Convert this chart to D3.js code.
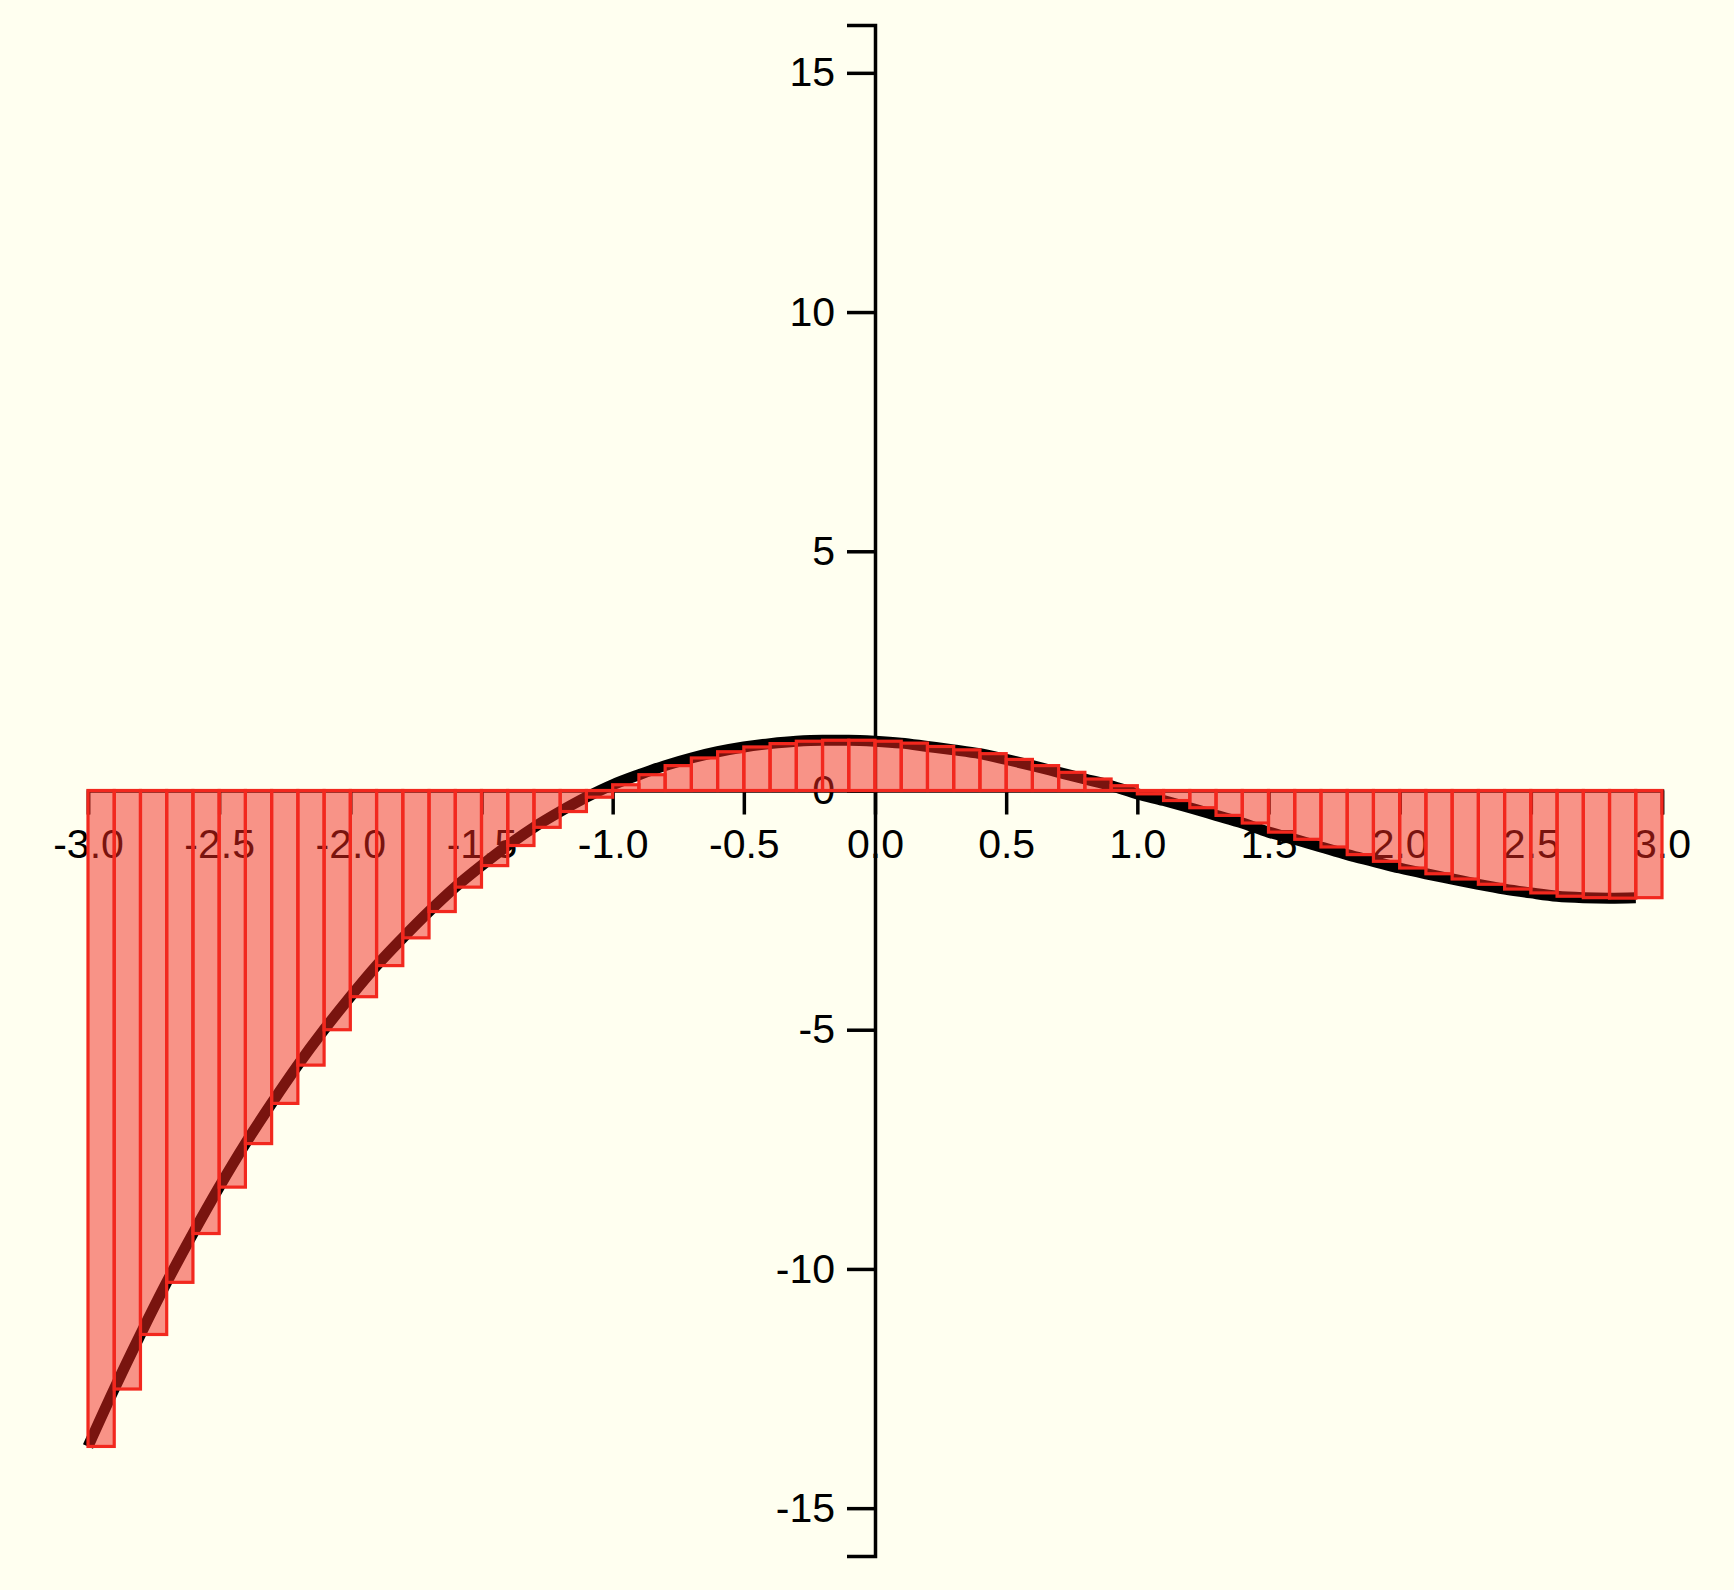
<!DOCTYPE html>
<html>
<head>
<meta charset="utf-8">
<script src="https://cdn.jsdelivr.net/npm/d3@7"></script>
<style>
  html, body { margin: 0; padding: 0; background: #fffff0; }
  svg { display: block; }
</style>
</head>
<body>
<svg id="chart" width="1734" height="1590"></svg>
<script>
// x positions (left edge of each bar / sample point of the curve)
const xs = [
  -3.0, -2.9, -2.8, -2.7, -2.6, -2.5, -2.4, -2.3, -2.2, -2.1,
  -2.0, -1.9, -1.8, -1.7, -1.6, -1.5, -1.4, -1.3, -1.2, -1.1,
  -1.0, -0.9, -0.8, -0.7, -0.6, -0.5, -0.4, -0.3, -0.2, -0.1,
   0.0,  0.1,  0.2,  0.3,  0.4,  0.5,  0.6,  0.7,  0.8,  0.9,
   1.0,  1.1,  1.2,  1.3,  1.4,  1.5,  1.6,  1.7,  1.8,  1.9,
   2.0,  2.1,  2.2,  2.3,  2.4,  2.5,  2.6,  2.7,  2.8,  2.9
];
// value at each x
const ys = [
  -13.71, -12.51, -11.37, -10.28, -9.26, -8.29, -7.38, -6.54, -5.74, -5.00,
   -4.31,  -3.66,  -3.08,  -2.53, -2.02, -1.57, -1.15, -0.77, -0.44, -0.14,
    0.12,   0.33,   0.52,   0.68,  0.81,  0.91,  0.98,  1.03,  1.05,  1.05,
    1.03,   0.99,   0.92,   0.85,  0.77,  0.65,  0.52,  0.38,  0.24,  0.10,
   -0.07,  -0.21,  -0.36,  -0.52, -0.68, -0.87, -1.02, -1.18, -1.34, -1.48,
   -1.62,  -1.74,  -1.85,  -1.96, -2.06, -2.14, -2.21, -2.24, -2.25, -2.24
];
const barWidth = 0.1;
const xTicks = [-3.0, -2.5, -2.0, -1.5, -1.0, -0.5, 0.0, 0.5, 1.0, 1.5, 2.0, 2.5, 3.0];
const yTicks = [-15, -10, -5, 0, 5, 10, 15];
const xDomain = [-3, 3];
const yDomain = [-16, 16];

const data = xs.map((x, i) => ({ x: x, y: ys[i] }));

const svg = d3.select("#chart");
svg.append("rect").attr("width", 1734).attr("height", 1590).attr("fill", "#fffff0");

const x = d3.scaleLinear().domain(xDomain).range([88, 1662]);
const y = d3.scaleLinear().domain(yDomain).range([1556, 25]);

const FONT = "'Liberation Sans', Arial, sans-serif";
const FS = 41;

// x axis
const gx = svg.append("g")
  .attr("transform", `translate(0,${y(0)})`)
  .call(d3.axisBottom(x).tickValues(xTicks).tickFormat(d => d.toFixed(1)).tickSize(24).tickPadding(14));
// y axis
const gy = svg.append("g")
  .attr("transform", `translate(${x(0)},0)`)
  .call(d3.axisLeft(y).tickValues(yTicks).tickFormat(d => String(d)).tickSize(28).tickPadding(12));

[gx, gy].forEach(g => {
  g.selectAll("path, line").attr("stroke", "#000").attr("stroke-width", 3.5);
  g.selectAll("text").attr("fill", "#000").style("font-family", FONT).style("font-size", FS + "px");
});

// curve
const line = d3.line().x(d => x(d.x)).y(d => y(d.y)).curve(d3.curveMonotoneX);
svg.append("path")
  .datum(data)
  .attr("d", line)
  .attr("fill", "none")
  .attr("stroke", "#000")
  .attr("stroke-width", 11);

// bars
const barColor = "rgb(242,40,30)";
svg.append("g").selectAll("rect")
  .data(data)
  .join("rect")
  .attr("x", d => x(d.x))
  .attr("width", d => x(d.x + barWidth) - x(d.x))
  .attr("y", d => y(Math.max(0, d.y)))
  .attr("height", d => Math.abs(y(d.y) - y(0)))
  .attr("fill", barColor)
  .attr("fill-opacity", 0.5)
  .attr("stroke", barColor)
  .attr("stroke-width", 3.2);
</script>
</body>
</html>
